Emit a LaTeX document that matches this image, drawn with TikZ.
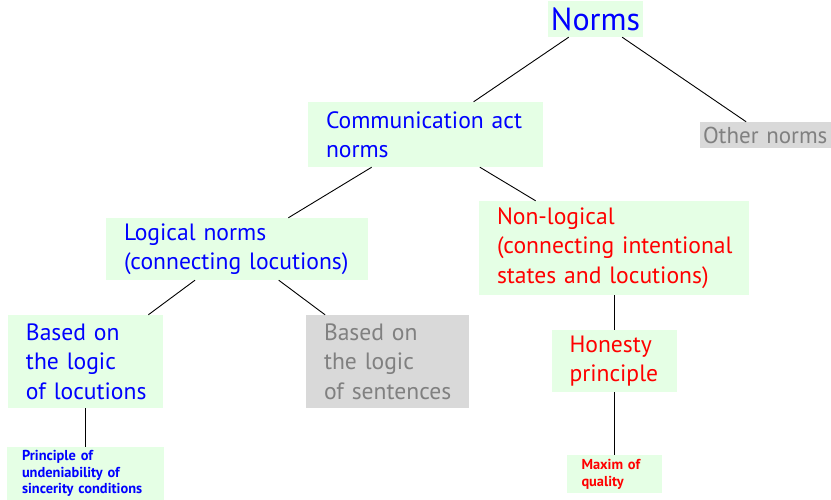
\documentclass[tikz,border=0pt]{standalone}
\usepackage{fontspec}
\setmainfont{PT Sans}
\usetikzlibrary{positioning}
\hyphenpenalty=10000
\exhyphenpenalty=10000
\definecolor{boxgreen}{RGB}{229,255,229}
\definecolor{boxgrey}{RGB}{217,217,217}
\definecolor{textgrey}{RGB}{128,128,128}
\definecolor{textblue}{RGB}{0,0,255}
\definecolor{textred}{RGB}{255,0,0}
\newcommand{\rootsize}{\fontsize{32}{38}\selectfont}
\newcommand{\boxsize}{\fontsize{23.6}{29.5}\selectfont}
\newcommand{\notesize}{\fontsize{14.4}{16.2}\selectfont\bfseries}
\tikzstyle{normbox} = [rectangle, fill=boxgreen, text=textblue,
align=left, inner xsep=18pt, inner ysep=0pt, font=\boxsize]
\tikzstyle{redbox} = [normbox, text=textred]
\tikzstyle{greybox} = [normbox, fill=boxgrey, text=textgrey]
\tikzstyle{notebox} = [normbox, inner xsep=15pt, font=\notesize]
\tikzstyle{edge} = [line width=0.9pt]

\begin{document}
\begin{tikzpicture}[x=1pt, y=1pt, node distance=113pt]
\useasboundingbox (0,0) rectangle (831,-500);

\node (norms) [normbox, align=center, inner xsep=0pt, minimum width=95pt,
minimum height=36pt, font=\rootsize] at (595.5,-19) {Norms};

\node (comm) [normbox, below of=norms, xshift=-170pt, yshift=-2.5pt,
text width=199pt, minimum height=65pt] {Communication~act\\norms};

\node (other) [greybox, below of=norms, xshift=170pt, yshift=-3pt,
inner xsep=3pt, text width=125pt, minimum height=26pt,
font=\fontsize{23}{28}\selectfont] {Other~norms};

%-------logical branch-------------------
\node (logical) [normbox, below of=comm, xshift=-188.5pt, yshift=-1.5pt,
text width=226pt, minimum height=62pt]
{Logical~norms\\(connecting~locutions)};

\node (basedloc) [normbox, below of=logical, xshift=-151.5pt, yshift=0.5pt,
text width=119pt, minimum height=93pt] {Based~on\\the~logic\\of~locutions};

\node (basedsent) [greybox, below of=logical, xshift=150.5pt, yshift=0.5pt,
text width=127pt, minimum height=93pt] {Based~on\\the~logic\\of~sentences};

\node (principle) [notebox, below of=basedloc, yshift=1pt,
text width=127pt, minimum height=53pt]
{Principle~of\\undeniability~of\\sincerity~conditions};

%-------non-logical branch---------------
\node (nonlog) [redbox, below of=comm, xshift=188.5pt, yshift=-0.5pt,
text width=234pt, minimum height=94pt]
{Non-logical\\(connecting~intentional\\states~and~locutions)};

\node (honesty) [redbox, below of=nonlog, text width=89pt,
minimum height=62pt] {Honesty\\principle};

\node (maxim) [notebox, text=textred, below of=honesty, text width=65pt,
minimum height=38pt, font=\fontsize{14.4}{17}\selectfont\bfseries]
{Maxim~of\\quality};

\draw [edge] (norms) -- (comm);
\draw [edge] (norms) -- (other);
\draw [edge] (comm) -- (logical);
\draw [edge] (comm) -- (nonlog);
\draw [edge] (logical) -- (basedloc);
\draw [edge] (logical) -- (basedsent);
\draw [edge] (basedloc) -- (principle);
\draw [edge] (nonlog) -- (honesty);
\draw [edge] (honesty) -- (maxim);

\end{tikzpicture}
\end{document}
